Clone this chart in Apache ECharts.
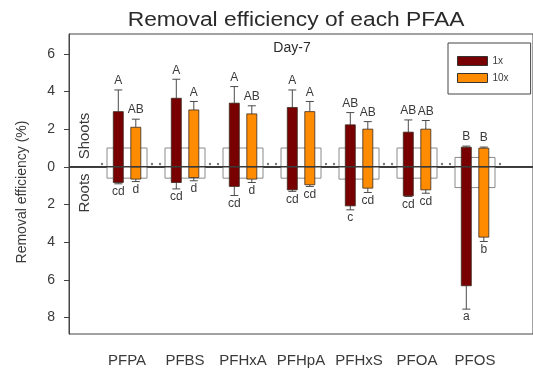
<!DOCTYPE html>
<html>
<head>
<meta charset="utf-8">
<script src="https://cdn.jsdelivr.net/npm/echarts@6/dist/echarts.min.js"></script>
<style>
  html, body { margin: 0; padding: 0; background: #fff; }
  #chart { width: 533px; height: 369px; }
</style>
</head>
<body>
<div id="chart"></div>
<script>
// Compounds on the x axis
const categories = ['PFPA', 'PFBS', 'PFHxA', 'PFHpA', 'PFHxS', 'PFOA', 'PFOS'];

// Shoots removal efficiency (%) and error, plotted upward
const shoots1x    = [2.93, 3.64, 3.38, 3.15, 2.23, 1.84, 1.04];
const shoots1xErr = [1.15, 1.01, 0.88, 0.93, 0.65, 0.65, 0.06];
const shoots10x    = [2.10, 3.02, 2.81, 2.93, 2.00, 2.00, 0.99];
const shoots10xErr = [0.43, 0.45, 0.43, 0.54, 0.40, 0.46, 0.06];

// Roots removal efficiency (%) and error, plotted downward
const roots1x    = [0.83, 0.83, 1.04, 1.22, 2.07, 1.54, 6.31];
const roots1xErr = [0.07, 0.34, 0.48, 0.08, 0.21, 0.03, 1.24];
const roots10x    = [0.65, 0.57, 0.65, 0.95, 1.13, 1.22, 3.73];
const roots10xErr = [0.13, 0.17, 0.18, 0.09, 0.23, 0.18, 0.23];

// Control (unspiked) levels drawn as open boxes behind the treatments
const controlShoots = [1.0, 1.0, 1.0, 1.0, 1.0, 1.0, 0.5];
const controlRoots  = [0.6, 0.6, 0.6, 0.6, 0.65, 0.6, 1.1];

// Significance letters
const shootLetters1x  = ['A', 'A', 'A', 'A', 'AB', 'AB', 'B'];
const shootLetters10x = ['AB', 'A', 'AB', 'A', 'AB', 'AB', 'B'];
const rootLetters1x   = ['cd', 'cd', 'cd', 'cd', 'c', 'cd', 'a'];
const rootLetters10x  = ['d', 'd', 'd', 'cd', 'cd', 'cd', 'b'];

// Y axis tick values (labels shown as absolute values)
const yTicks = [-8, -6, -4, -2, 0, 2, 4, 6];

const FONT = 'Liberation Sans, Arial, sans-serif';
const INK = '#3a3a3a';

function treatmentRenderer(offset, shootLetters, rootLetters) {
  return function (params, api) {
    const i = api.value(0);
    const base = api.coord([i, 0]);
    const cx = base[0] + offset;
    const top = api.coord([i, api.value(1)]);
    const topErr = api.coord([i, api.value(1) + api.value(2)]);
    const bot = api.coord([i, -api.value(3)]);
    const botErr = api.coord([i, -api.value(3) - api.value(4)]);
    const w = 10, cap = 4;
    const fill = api.visual('color');
    const ls = { stroke: '#4a4a4a', lineWidth: 1 };
    const txt = { fill: INK, font: '12px ' + FONT, align: 'center' };
    return {
      type: 'group',
      children: [
        { type: 'line', shape: { x1: cx, y1: top[1], x2: cx, y2: topErr[1] }, style: ls },
        { type: 'line', shape: { x1: cx - cap, y1: topErr[1], x2: cx + cap, y2: topErr[1] }, style: ls },
        { type: 'line', shape: { x1: cx, y1: bot[1], x2: cx, y2: botErr[1] }, style: ls },
        { type: 'line', shape: { x1: cx - cap, y1: botErr[1], x2: cx + cap, y2: botErr[1] }, style: ls },
        { type: 'rect', shape: { x: cx - w / 2, y: top[1], width: w, height: base[1] - top[1] },
          style: { fill: fill, stroke: '#3a2a20', lineWidth: 0.8 } },
        { type: 'rect', shape: { x: cx - w / 2, y: base[1], width: w, height: bot[1] - base[1] },
          style: { fill: fill, stroke: '#3a2a20', lineWidth: 0.8 } },
        { type: 'text', x: cx, y: topErr[1] - 3,
          style: Object.assign({ text: shootLetters[params.dataIndex], verticalAlign: 'bottom' }, txt) },
        { type: 'text', x: cx, y: botErr[1] + 2,
          style: Object.assign({ text: rootLetters[params.dataIndex], verticalAlign: 'top' }, txt) }
      ]
    };
  };
}

function controlRenderer(params, api) {
  const i = api.value(0);
  const base = api.coord([i, 0]);
  const top = api.coord([i, api.value(1)]);
  const bot = api.coord([i, -api.value(2)]);
  const dotY = api.coord([i, 0.15])[1];
  const half = 20;
  return {
    type: 'group',
    children: [
      { type: 'rect', shape: { x: base[0] - half, y: top[1], width: half * 2, height: bot[1] - top[1] },
        style: { fill: '#fff', stroke: '#8a8a8a', lineWidth: 1 } },
      { type: 'circle', shape: { cx: base[0] - 25, cy: dotY, r: 1.2 }, style: { fill: '#777' } },
      { type: 'circle', shape: { cx: base[0] + 25, cy: dotY, r: 1.2 }, style: { fill: '#777' } }
    ]
  };
}

const xPos = categories.map((c, i) => i + 1);

const chart = echarts.init(document.getElementById('chart'), null, { renderer: 'canvas' });
chart.setOption({
  animation: false,
  backgroundColor: '#fff',
  textStyle: { fontFamily: FONT },
  grid: {
    left: 69, top: 34, right: -3, bottom: 35,
    show: true, borderColor: '#444', borderWidth: 1, backgroundColor: 'transparent'
  },
  legend: {
    data: [{ name: '1x', icon: 'rect' }, { name: '10x', icon: 'rect' }],
    orient: 'vertical',
    left: 448, top: 43,
    itemWidth: 30, itemHeight: 9, itemGap: 7,
    padding: [13, 22, 11, 9],
    borderColor: '#444', borderWidth: 1,
    itemStyle: { borderColor: '#333', borderWidth: 1 },
    textStyle: { fontSize: 10, color: INK, fontFamily: FONT }
  },
  xAxis: {
    type: 'value', min: 0, max: 8,
    splitLine: { show: false },
    axisLine: { show: true, lineStyle: { color: '#444' } },
    axisTick: { show: true, customValues: xPos, length: 5, lineStyle: { color: '#444' } },
    axisLabel: {
      show: true, customValues: xPos, margin: 19,
      formatter: v => categories[Math.round(v) - 1] || '',
      fontSize: 15, color: INK, fontFamily: FONT
    }
  },
  yAxis: {
    type: 'value', min: -8.87, max: 7.05,
    splitLine: { show: false },
    axisLine: { show: true, lineStyle: { color: '#444' } },
    axisTick: { show: true, customValues: yTicks, length: 5, lineStyle: { color: '#444' } },
    axisLabel: {
      show: true, customValues: yTicks, margin: 14,
      formatter: v => String(Math.abs(v)),
      fontSize: 14, color: INK, fontFamily: FONT
    }
  },
  graphic: [
    { type: 'text', x: 296, y: 20, scaleX: 1.14, style: { text: 'Removal efficiency of each PFAA',
      font: '20px ' + FONT, fill: '#2a2a2a', align: 'center', verticalAlign: 'middle' } },
    { type: 'text', x: 292, y: 48, style: { text: 'Day-7', font: '14px ' + FONT,
      fill: '#2a2a2a', align: 'center', verticalAlign: 'middle' } },
    { type: 'text', x: 22, y: 192, rotation: Math.PI / 2, style: { text: 'Removal efficiency (%)',
      font: '14px ' + FONT, fill: INK, align: 'center', verticalAlign: 'middle' } },
    { type: 'text', x: 85, y: 136, rotation: Math.PI / 2, style: { text: 'Shoots',
      font: '15px ' + FONT, fill: INK, align: 'center', verticalAlign: 'middle' } },
    { type: 'text', x: 85, y: 193, rotation: Math.PI / 2, style: { text: 'Roots',
      font: '15px ' + FONT, fill: INK, align: 'center', verticalAlign: 'middle' } }
  ],
  series: [
    {
      name: 'control', type: 'custom', z: 1,
      renderItem: controlRenderer,
      encode: { x: 0, y: 1 },
      data: xPos.map((x, i) => [x, controlShoots[i], controlRoots[i]])
    },
    {
      name: '1x', type: 'custom', z: 3,
      itemStyle: { color: '#780000' },
      renderItem: treatmentRenderer(-8.7, shootLetters1x, rootLetters1x),
      encode: { x: 0, y: 1 },
      data: xPos.map((x, i) => [x, shoots1x[i], shoots1xErr[i], roots1x[i], roots1xErr[i]])
    },
    {
      name: '10x', type: 'custom', z: 3,
      itemStyle: { color: '#ff8c00' },
      renderItem: treatmentRenderer(8.8, shootLetters10x, rootLetters10x),
      encode: { x: 0, y: 1 },
      data: xPos.map((x, i) => [x, shoots10x[i], shoots10xErr[i], roots10x[i], roots10xErr[i]])
    },
    {
      name: 'zero', type: 'line', z: 5, silent: true,
      symbol: 'none',
      lineStyle: { color: '#3a3a3a', width: 1.5 },
      data: [[0, 0], [8, 0]]
    }
  ]
});
</script>
</body>
</html>
